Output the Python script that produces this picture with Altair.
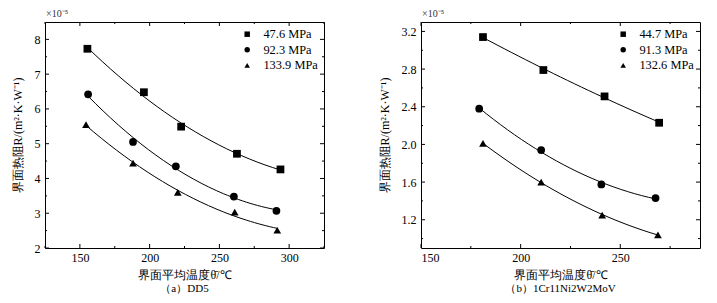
import altair as alt
import pandas as pd

FONT = "Liberation Serif, Times New Roman, Times, serif"

# ---------------- data: panel (a) DD5 ----------------
a_series = ["47.6 MPa", "92.3 MPa", "133.9 MPa"]
a_t_1 = [155.4, 195.9, 222.6, 262.6, 293.8]
a_r_1 = [7.73, 6.48, 5.49, 4.71, 4.26]
a_t_2 = [155.9, 188.1, 218.8, 260.4, 290.9]
a_r_2 = [6.42, 5.05, 4.35, 3.48, 3.07]
a_t_3 = [154.4, 188.1, 220.2, 261.0, 291.5]
a_r_3 = [5.55, 4.44, 3.60, 3.03, 2.51]
a_x_major = [150, 200, 250, 300]
a_x_minor = [125, 175, 225, 275, 325]
a_y_major = [2, 3, 4, 5, 6, 7, 8]
a_y_minor = [2.5, 3.5, 4.5, 5.5, 6.5, 7.5]

# ---------------- data: panel (b) 1Cr11Ni2W2MoV ----------------
b_series = ["44.7 MPa", "91.3 MPa", "132.6 MPa"]
b_t_1 = [181.1, 211.4, 242.1, 269.5]
b_r_1 = [3.14, 2.79, 2.51, 2.23]
b_t_2 = [179.2, 210.3, 240.5, 267.7]
b_r_2 = [2.38, 1.94, 1.575, 1.43]
b_t_3 = [181.1, 210.3, 240.9, 268.9]
b_r_3 = [2.01, 1.60, 1.25, 1.04]
b_x_major = [150, 200, 250]
b_x_minor = [175, 225, 275]
b_y_major = [1.2, 1.6, 2.0, 2.4, 2.8, 3.2]
b_y_minor = [1.0, 1.4, 1.8, 2.2, 2.6, 3.0]

W, H = 279, 226
SHAPES = ["square", "circle", "triangle-up"]


def build_df(series, ts, rs):
    rows = []
    for s, tl, rl in zip(series, ts, rs):
        for t, r in zip(tl, rl):
            rows.append({"series": s, "t": t, "r": r})
    return pd.DataFrame(rows)


def panel(df, series, xdom, ydom, xmaj, xmin, ymaj, ymin, yfmt, caption):
    xs = alt.Scale(domain=xdom, nice=False, zero=False)
    ys = alt.Scale(domain=ydom, nice=False, zero=False)

    base = alt.Chart(df)
    points = base.mark_point(filled=True, size=60, color="black", opacity=1).encode(
        x=alt.X("t:Q", scale=xs, axis=alt.Axis(
            values=xmaj, ticks=False, grid=False, domain=False, labelOverlap=False,
            labelPadding=4, labelFontSize=12, labelFont=FONT, labelColor="black",
            title="界面平均温度θ̄/℃", titleFont=FONT, titleFontSize=12,
            titleColor="black", titleFontWeight="normal", titlePadding=6)),
        y=alt.Y("r:Q", scale=ys, axis=alt.Axis(
            values=ymaj, format=yfmt, ticks=False, grid=False, domain=False,
            labelOverlap=False, tickCount=len(ymaj),
            labelPadding=5, labelFontSize=12, labelFont=FONT, labelColor="black",
            title="界面热阻R/(m²·K·W⁻¹)", titleFont=FONT, titleFontSize=12,
            titleColor="black", titleFontWeight="normal", titlePadding=10)),
        shape=alt.Shape("series:N", scale=alt.Scale(domain=series, range=SHAPES),
                        legend=alt.Legend(
                            title=None, orient="top-right", offset=5,
                            labelFont=FONT, labelFontSize=12.4, symbolSize=30,
                            labelColor="black",
                            symbolFillColor="black", symbolStrokeColor="black",
                            labelOffset=10, rowPadding=2.6, padding=1)),
    )
    lines = base.transform_regression(
        "t", "r", groupby=["series"], method="poly", order=2
    ).mark_line(color="black", strokeWidth=1).encode(
        x=alt.X("t:Q", scale=xs),
        y=alt.Y("r:Q", scale=ys),
        detail="series:N",
    )

    layers = [points, lines]
    for vals, L in ((ymaj, 4), (ymin, 2)):
        d = alt.Chart(pd.DataFrame({"r": vals}))
        layers.append(d.mark_rule(color="black", strokeWidth=1).encode(
            y=alt.Y("r:Q", scale=ys), x=alt.value(0), x2=alt.value(L)))
        layers.append(d.mark_rule(color="black", strokeWidth=1).encode(
            y=alt.Y("r:Q", scale=ys), x=alt.value(W), x2=alt.value(W - L)))
    for vals, L in ((xmaj, 4), (xmin, 2)):
        d = alt.Chart(pd.DataFrame({"t": vals}))
        layers.append(d.mark_rule(color="black", strokeWidth=1).encode(
            x=alt.X("t:Q", scale=xs), y=alt.value(H), y2=alt.value(H - L)))
        layers.append(d.mark_rule(color="black", strokeWidth=1).encode(
            x=alt.X("t:Q", scale=xs), y=alt.value(0), y2=alt.value(L)))

    mult = alt.Chart(pd.DataFrame({"lab": ["×10⁻⁵"]})).mark_text(
        align="left", baseline="middle", font=FONT, fontSize=10, color="#333"
    ).encode(x=alt.value(1), y=alt.value(-8), text="lab:N")
    layers.append(mult)

    return alt.layer(*layers).properties(
        width=W, height=H,
        title=alt.TitleParams(caption, orient="bottom", font=FONT, fontSize=11,
                              color="black", fontWeight="normal", offset=3),
    )


df_a = build_df(a_series, [a_t_1, a_t_2, a_t_3], [a_r_1, a_r_2, a_r_3])
df_b = build_df(b_series, [b_t_1, b_t_2, b_t_3], [b_r_1, b_r_2, b_r_3])

pa = panel(df_a, a_series, [125, 325], [2, 8.5], a_x_major, a_x_minor,
           a_y_major, a_y_minor, ".0f", "（a）DD5")
pb = panel(df_b, b_series, [150, 290], [0.9, 3.3], b_x_major, b_x_minor,
           b_y_major, b_y_minor, ".1f", "（b）1Cr11Ni2W2MoV")

chart = alt.hconcat(pa, pb, spacing=52).resolve_scale(
    x="independent", y="independent", shape="independent"
).resolve_legend(shape="independent").properties(
    padding={"left": 10, "top": 8, "right": 5, "bottom": 2},
    background="white",
).configure_view(stroke="black", strokeWidth=1).configure_legend(
    labelFont=FONT
).configure_axis(labelFont=FONT, titleFont=FONT)

chart.save("out.html", embed_options={"renderer": "svg", "actions": False})
